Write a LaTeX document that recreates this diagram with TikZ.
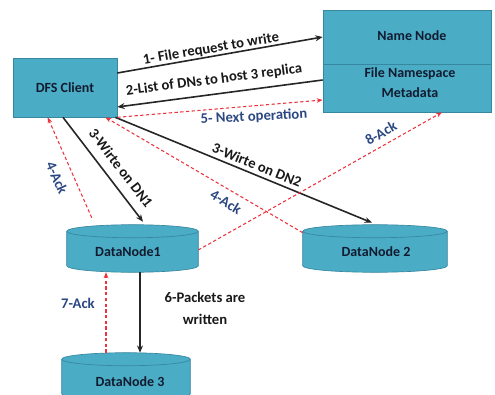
\documentclass[tikz,border=0pt]{standalone}
\usepackage{fontspec}
\setmainfont{Carlito}
\usetikzlibrary{arrows.meta,calc}
\definecolor{boxfill}{RGB}{75,172,198}
\definecolor{boxline}{RGB}{55,135,160}
\definecolor{boxtext}{RGB}{18,28,48}
\definecolor{ackred}{RGB}{236,52,62}
\definecolor{ackblue}{RGB}{44,72,130}
\def\cylry{4.875pt}
% cylinder drawn around a placeholder node: body, rounded bottom, top rim
\newcommand\drawcyl[1]{%
  \path[draw=boxline,line width=0.5pt,fill=boxfill]
    let \p1=(#1.north west), \p2=(#1.south east), \n1={(\x2-\x1)/2} in
    (\x1,\y1-\cylry) -- (\x1,\y2+\cylry)
    arc[start angle=180,end angle=360,x radius=\n1,y radius=\cylry]
    -- (\x2,\y1-\cylry)
    arc[start angle=0,end angle=180,x radius=\n1,y radius=\cylry] -- cycle;
  \path[draw=boxline,line width=0.5pt]
    let \p1=(#1.north west), \p2=(#1.south east), \n1={(\x2-\x1)/2} in
    (\x1,\y1-\cylry)
    arc[start angle=180,end angle=360,x radius=\n1,y radius=\cylry];
}
\begin{document}
\begin{tikzpicture}[x=0.75pt,y=0.75pt,
  box/.style={draw=boxline,line width=0.5pt,fill=boxfill,inner sep=0pt},
  boxtxt/.style={text=boxtext,inner sep=0pt,align=center,
    font=\bfseries\fontsize{10.5}{15}\selectfont},
  dnslot/.style={inner sep=0pt,minimum height=47*0.75pt},
  flow/.style={line width=1.2pt,draw=black!85,
    -{Stealth[length=5.5pt,width=4.5pt]}},
  ack/.style={line width=0.8pt,draw=ackred,dash pattern=on 2.5pt off 1.8pt,
    -{Stealth[length=4.5pt,width=3.5pt]}},
  lbl/.style={inner sep=0pt,text=black!90,align=center,
    font=\bfseries\fontsize{11}{16.5}\selectfont},
  acklbl/.style={lbl,text=ackblue}]
\useasboundingbox (0,0) rectangle (495,-395);
\clip (0,0) rectangle (495,-395);

% client and name node
\node[box,minimum width=104*0.75pt,minimum height=59*0.75pt] (client) at (65,-87.5) {};
\node[boxtxt] (clienttxt) at (65,-88) {DFS Client};
\node[box,minimum width=168*0.75pt,minimum height=54*0.75pt] (nn) at (407,-37) {};
\node[box,minimum width=168*0.75pt,minimum height=48*0.75pt] (meta) at (407,-88) {};
\node[boxtxt] (nntxt) at (412,-36) {Name Node};
\node[boxtxt] (metatxt) at (410,-83) {File Namespace\\Metadata};

% data nodes
\node[dnslot,minimum width=131*0.75pt] (dn1) at (132.5,-248.5) {};
\node[dnslot,minimum width=144*0.75pt] (dn2) at (375,-248.5) {};
\node[dnslot,minimum width=128*0.75pt] (dn3) at (126,-376.5) {};
\drawcyl{dn1}
\drawcyl{dn2}
\drawcyl{dn3}
\node[boxtxt] (dn1txt) at (128,-252) {DataNode1};
\node[boxtxt] (dn2txt) at (376,-252) {DataNode 2};
\node[boxtxt] (dn3txt) at (130,-382) {DataNode 3};

% requests and writes
\draw[flow] ($(client.east)+(0,14.5)$) -- (nn.west);
\draw[flow] ($(meta.west)+(0,8)$) -- ($(client.east)+(0,-19.5)$);
\draw[flow] ($(client.south)+(-2,0)$) -- ($(dn1.north)+(10.5,3)$);
\draw[flow] ($(client.south east)+(-2,0)$) -- ($(dn2.north)+(-3,2)$);
\draw[flow] ($(dn1.south)+(7.5,0)$) -- ($(dn3.north)+(14,0)$);

% acknowledgements
\draw[ack] ($(client.south east)$) -- ($(meta.west)+(0,-12)$);
\draw[ack] ($(dn1.north west)+(25,7)$) -- ($(client.south west)+(35,0)$);
\draw[ack] ($(dn2.north west)+(0,-8)$) -- ($(client.south east)+(-12,0)$);
\draw[ack] ($(dn1.east)+(0,-1.5)$) -- ($(meta.south)+(35,0)$);
\draw[ack] ($(dn3.north)+(-20,0)$) -- ($(dn1.south)+(-26.5,0)$);

% labels
\node[lbl,rotate=9.6] (l1) at (211,-49) {1- File request to write};
\node[lbl,rotate=7.5] (l2) at (214,-80) {2-List of DNs to host 3 replica};
\node[acklbl,rotate=3] (l5) at (254,-117) {5- Next operation};
\node[lbl,rotate=-52.4] (l3a) at (121,-168) {3-Wirte on DN1};
\node[lbl,rotate=-22.2] (l3b) at (257,-165) {3-Wirte on DN2};
\node[acklbl,rotate=-66] (l4a) at (57,-178) {4-Ack};
\node[acklbl,rotate=-31] (l4b) at (226,-202) {4-Ack};
\node[acklbl,rotate=29.5] (l8) at (381,-133) {8-Ack};
\node[lbl] (l6) at (205,-308) {6-Packets are\\written};
\node[acklbl] (l7) at (78,-303) {7-Ack};
\end{tikzpicture}
\end{document}
